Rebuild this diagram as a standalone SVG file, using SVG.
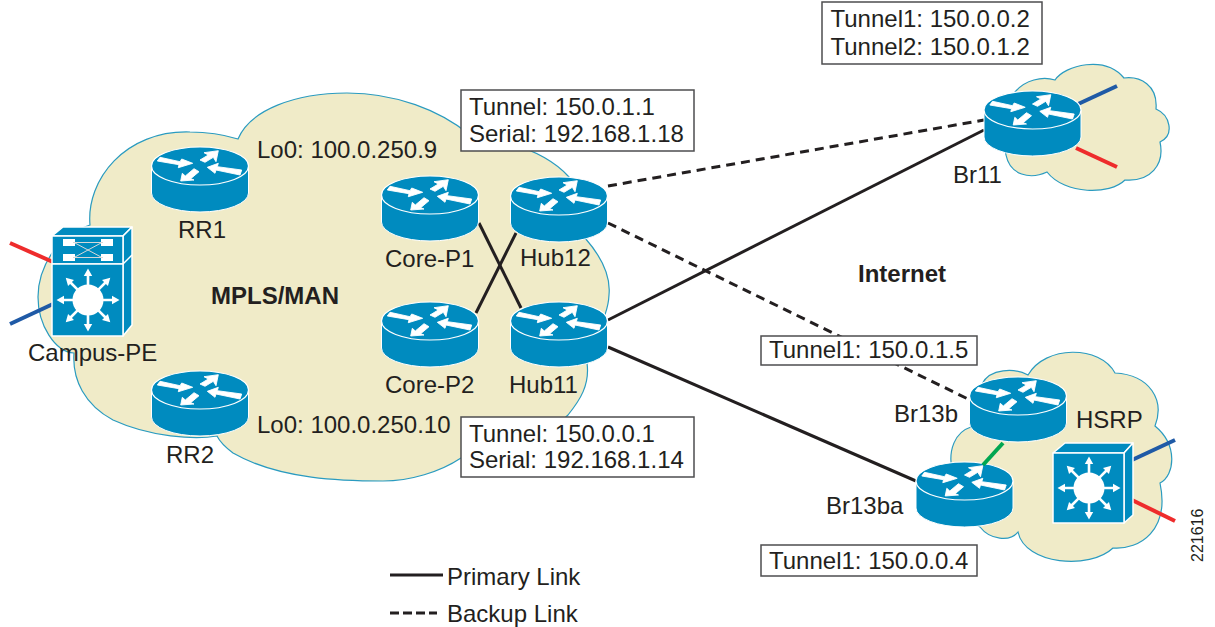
<svg xmlns="http://www.w3.org/2000/svg" xmlns:xlink="http://www.w3.org/1999/xlink" width="1215" height="627" viewBox="0 0 1215 627">
<style>
text{font-family:"Liberation Sans",Arial,sans-serif;font-size:24px;fill:#231f20}
.b{font-weight:bold}
.cloud{fill:#f0ebc8;stroke:#2a9bc0;stroke-width:1.2}
.box{fill:#fff;stroke:#4d4d4f;stroke-width:1.5}
.lnk{fill:none;stroke:#231f20;stroke-width:3}
.dash{fill:none;stroke:#231f20;stroke-width:3;stroke-dasharray:9 6}
.blue{stroke:#1f5aa6;stroke-width:4;fill:none}
.red{stroke:#ee2c2c;stroke-width:4;fill:none}
.sw{fill:#008bbf;stroke:#fff;stroke-width:1.5;stroke-linejoin:round}
.arw{fill:#fff;stroke:#fff;stroke-width:.9;stroke-linejoin:round}
</style>
<defs>
<g id="router">
<path d="M-48.500,0V27A48.500,19 0 0 0 48.500,27V0Z" fill="#008bbf" stroke="#fff" stroke-width="1"/>
<ellipse cx="0" cy="0" rx="48.500" ry="19" fill="#008bbf" stroke="#fff" stroke-width="1.2"/>
<path class="arw" d="M-40,-8.700L-20,-4.300L-18.300,-7L-7.300,-2.700L-21.700,1.700L-21,-1.300L-42.700,-5Z"/>
<path class="arw" d="M18.300,-15.300L16,-4.300L13.300,-8.700L5,-3.700L0,-6L8.300,-11L4,-13.300Z"/>
<path class="arw" d="M7.300,1.300L18.300,-2.700L17.300,.7L41.700,4L40,9L16,4L15,7.300Z"/>
<path class="arw" d="M-19.300,15L-17.700,7.300L-14.700,10L-6,2.700L-1,5.700L-9.300,12.700L-6,14Z"/>
</g>
<path id="ray" fill="#fff" d="M-1.300,-14V-24H-4.200L0,-31.500L4.200,-24H1.300V-14Z"/>
<g id="star">
<circle r="15.500" fill="#fff"/>
<use xlink:href="#ray"/><use xlink:href="#ray" transform="rotate(45)"/><use xlink:href="#ray" transform="rotate(90)"/><use xlink:href="#ray" transform="rotate(135)"/><use xlink:href="#ray" transform="rotate(180)"/><use xlink:href="#ray" transform="rotate(225)"/><use xlink:href="#ray" transform="rotate(270)"/><use xlink:href="#ray" transform="rotate(315)"/>
</g>
</defs>

<g id="clouds">
<path id="cloud-mpls" class="cloud" d="M90,225C86,180 125,130 190,132C208,132 225,135 238,139C250,110 295,93 347,93C395,93 440,110 470,135C505,140 545,150 569,177C575,190 575,225 585,238C600,255 611,275 609,295C608,320 590,340 587,363C590,385 580,400 568,415C540,445 495,440 461,458C440,472 410,481 383,481C345,481 280,480 233,453C225,447 220,442 217,436C195,440 150,437 113,420C85,405 72,380 74,353C55,352 38,325 38,297C38,280 44,265 52,253C60,240 75,230 90,225Z"/>
<path id="cloud-br11" class="cloud" d="M1006,155C1000,130 1005,100 1015,92C1025,80 1042,76 1055,80C1065,65 1105,55 1124,78C1140,76 1158,85 1156,109C1170,115 1175,135 1160,142C1165,165 1150,182 1125,180C1110,195 1065,195 1047,172C1030,180 1010,175 1006,155Z"/>
<path id="cloud-br13" class="cloud" d="M971,427C955,432 948,450 952,470C955,490 965,520 980,527C990,540 1010,542 1018,532C1025,565 1090,570 1113,548C1140,550 1170,530 1160,483C1175,475 1178,445 1155,426C1165,400 1150,375 1115,373C1100,345 1045,345 1028,375C1015,368 990,368 982,384Z"/>
</g>

<g id="connectors">
<path class="lnk" d="M479,223L521,308"/>
<path class="lnk" d="M516,233L476,313"/>
<path class="lnk" d="M608,320L984,130"/>
<path class="lnk" d="M608,347L916,481"/>
<path class="dash" d="M608,186L984,120"/>
<path class="dash" d="M608,223L970,400"/>
<path class="blue" d="M1076,105L1117,86"/>
<path class="red" d="M1076,148L1117,167"/>
<path class="red" d="M10,243L53,262"/>
<path class="blue" d="M10,324L53,304"/>
<path class="blue" d="M1132,460L1175,440"/>
<path class="red" d="M1132,500L1175,521"/>
</g>

<g id="node-rr1"><use xlink:href="#router" x="200" y="166"/><text x="178" y="238">RR1</text></g>
<g id="node-rr2"><use xlink:href="#router" x="200" y="390"/><text x="166" y="463">RR2</text></g>
<g id="node-core-p1"><use xlink:href="#router" x="430" y="195"/><text x="385" y="267">Core-P1</text></g>
<g id="node-core-p2"><use xlink:href="#router" x="430" y="321"/><text x="385" y="393">Core-P2</text></g>
<g id="node-hub12"><use xlink:href="#router" x="559" y="196"/><text x="520" y="266">Hub12</text></g>
<g id="node-hub11"><use xlink:href="#router" x="559" y="321"/><text x="509" y="393">Hub11</text></g>
<g id="node-br11"><use xlink:href="#router" x="1032.500" y="110"/><text x="953" y="183">Br11</text></g>
<g id="node-br13b"><use xlink:href="#router" x="1018" y="396"/><text x="894" y="422">Br13b</text></g>
<g id="node-br13ba"><use xlink:href="#router" x="964.500" y="481"/><text x="826" y="514">Br13ba</text></g>
<path id="link-br13" d="M1003,443L983,465" fill="none" stroke="#00a651" stroke-width="4"/>

<g id="node-campus-pe">
<path class="sw" d="M52,236L63,227H132L123,236Z"/>
<path class="sw" d="M123,236L132,227V325L123,336Z"/>
<path d="M123,264L132,255" stroke="#fff" stroke-width="1.5"/>
<rect class="sw" x="52" y="236" width="71" height="28"/>
<rect class="sw" x="52" y="264" width="71" height="72"/>
<path fill="#fff" d="M63,239H75V246H63ZM101,239H113V246H101ZM63,254H75V261H63ZM101,254H113V261H101Z"/>
<path d="M73,242.500H103M73,257.500H103M75,243L101,257M75,257L101,243" fill="none" stroke="#d8d8d8" stroke-width="1"/>
<use xlink:href="#star" x="88" y="300"/>
<text x="28" y="361">Campus-PE</text>
</g>

<g id="node-hsrp-switch">
<path class="sw" d="M1053,453L1065,443H1133L1124,453Z"/>
<path class="sw" d="M1124,453L1133,443V515L1124,523Z"/>
<rect class="sw" x="1053" y="453" width="71" height="70"/>
<use xlink:href="#star" x="1089" y="488"/>
<text x="1076" y="428">HSRP</text>
</g>

<g id="labels">
<text class="b" x="211" y="304">MPLS/MAN</text>
<text class="b" x="858" y="282">Internet</text>
<text x="257" y="158">Lo0: 100.0.250.9</text>
<text x="257" y="433">Lo0: 100.0.250.10</text>
<text x="1203" y="562" transform="rotate(-90 1203 562)" style="font-size:16px">221616</text>
</g>

<g id="box-br11">
<rect class="box" x="822" y="2" width="220" height="62"/>
<text x="830.500" y="27">Tunnel1: 150.0.0.2</text>
<text x="830.500" y="55">Tunnel2: 150.0.1.2</text>
</g>
<g id="box-hub12">
<rect class="box" x="461" y="90" width="233" height="61"/>
<text x="469" y="115">Tunnel: 150.0.1.1</text>
<text x="469" y="142">Serial: 192.168.1.18</text>
</g>
<g id="box-hub11">
<rect class="box" x="461" y="417" width="233" height="60"/>
<text x="469" y="442">Tunnel: 150.0.0.1</text>
<text x="469" y="468">Serial: 192.168.1.14</text>
</g>
<g id="box-br13b">
<rect class="box" x="761" y="336" width="216" height="29"/>
<text x="769" y="358">Tunnel1: 150.0.1.5</text>
</g>
<g id="box-br13ba">
<rect class="box" x="761" y="545" width="216" height="31"/>
<text x="769" y="569">Tunnel1: 150.0.0.4</text>
</g>

<g id="legend">
<path class="lnk" d="M390,575H443"/>
<path class="dash" d="M390,613H437" style="stroke-dasharray:9 4"/>
<text x="447" y="585">Primary Link</text>
<text x="447" y="622">Backup Link</text>
</g>
</svg>
